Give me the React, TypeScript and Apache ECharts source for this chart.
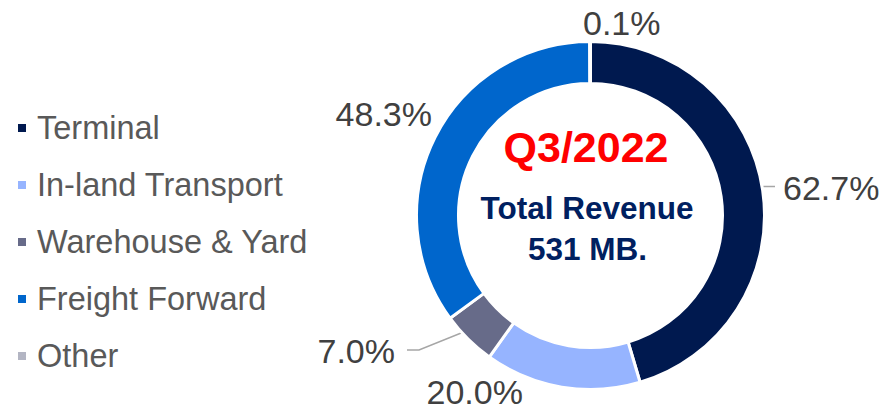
import React, { useEffect, useRef } from "react";
import * as echarts from "echarts";

// ---- data ----
const categories = ["Terminal", "In-land Transport", "Warehouse & Yard", "Freight Forward", "Other"];
const shares = [62.7, 20.0, 7.0, 48.3, 0.1];
const sliceColors = ["#00194F", "#96B4FF", "#676B89", "#0066CC", "#B3B5C3"];
const centerTitle = "Q3/2022";
const centerLines = ["Total Revenue", "531 MB."];

// ---- layout (not data) ----
const FONT = '"Liberation Sans", Arial, Helvetica, sans-serif';
const CX = 590.5;
const CY = 215.5;
const LABEL_SPOTS: { x: number; y: number; align: "left" | "right"; line: boolean }[] = [
  { x: 783, y: 187.5, align: "left", line: true },
  { x: 426.5, y: 391.5, align: "left", line: false },
  { x: 395, y: 351, align: "right", line: true },
  { x: 432, y: 114, align: "right", line: false },
  { x: 583, y: 23, align: "left", line: false },
];

export default function App() {
  const ref = useRef<HTMLDivElement>(null);

  useEffect(() => {
    if (!ref.current) return;
    const chart = echarts.init(ref.current, undefined, { renderer: "svg" });

    const ringData = categories.map((name, i) => ({
      name,
      value: shares[i],
      itemStyle: { color: sliceColors[i] },
    }));
    const labelData = categories.map((name, i) => ({
      name,
      value: shares[i],
      labelLine: { show: LABEL_SPOTS[i].line },
    }));

    chart.setOption({
      animation: false,
      legend: {
        orient: "vertical",
        left: 16,
        top: 110,
        padding: 0,
        itemWidth: 10,
        itemHeight: 10,
        itemGap: 21,
        icon: "rect",
        data: categories,
        selectedMode: false,
        textStyle: {
          color: "#595959",
          fontSize: 32.5,
          lineHeight: 36,
          fontFamily: FONT,
          padding: [0, 0, 0, 5],
        },
      },
      series: [
        {
          type: "pie",
          name: "ring",
          center: [CX, CY],
          radius: [132, 174],
          startAngle: 90,
          clockwise: true,
          silent: true,
          avoidLabelOverlap: false,
          itemStyle: { borderColor: "#ffffff", borderWidth: 3 },
          label: { show: false },
          labelLine: { show: false },
          data: ringData,
        },
        {
          type: "pie",
          name: "labels",
          center: [CX, CY],
          radius: [0, 153],
          startAngle: 90,
          clockwise: true,
          silent: true,
          avoidLabelOverlap: false,
          itemStyle: { color: "rgba(0,0,0,0)", borderWidth: 0 },
          label: {
            show: true,
            position: "outside",
            color: "#404040",
            fontSize: 34,
            fontFamily: FONT,
            formatter: (p: any) => Number(p.value).toFixed(1) + "%",
          },
          labelLine: {
            length: 20,
            length2: 13,
            lineStyle: { color: "#A6A6A6", width: 1.5 },
          },
          labelLayout: (p: any) => {
            const s = LABEL_SPOTS[p.dataIndex];
            const out: any = { x: s.x, y: s.y, align: s.align, verticalAlign: "middle" };
            if (s.line && p.labelLinePoints) {
              const dir = s.align === "left" ? -1 : 1;
              const endX = s.x + dir * (s.align === "left" ? 8 : 12);
              const ly = s.y - 1;
              out.labelLinePoints = [p.labelLinePoints[0], [endX + dir * 12, ly], [endX, ly]];
            }
            return out;
          },
          data: labelData,
        },
      ],
      graphic: [
        {
          type: "text",
          x: 586,
          y: 147,
          silent: true,
          style: {
            text: centerTitle,
            fill: "#FF0000",
            fontSize: 43,
            fontWeight: "bold",
            fontFamily: FONT,
            align: "center",
            verticalAlign: "middle",
          },
        },
        {
          type: "text",
          x: 587,
          y: 207.5,
          silent: true,
          style: {
            text: centerLines[0],
            fill: "#002060",
            fontSize: 31.5,
            fontWeight: "bold",
            fontFamily: FONT,
            align: "center",
            verticalAlign: "middle",
          },
        },
        {
          type: "text",
          x: 587.5,
          y: 248.5,
          silent: true,
          style: {
            text: centerLines[1],
            fill: "#002060",
            fontSize: 31.5,
            fontWeight: "bold",
            fontFamily: FONT,
            align: "center",
            verticalAlign: "middle",
          },
        },
      ],
    });

    return () => chart.dispose();
  }, []);

  return (
    <div
      ref={ref}
      style={{ position: "fixed", left: 0, top: 0, width: 884, height: 404, background: "#ffffff" }}
    />
  );
}
